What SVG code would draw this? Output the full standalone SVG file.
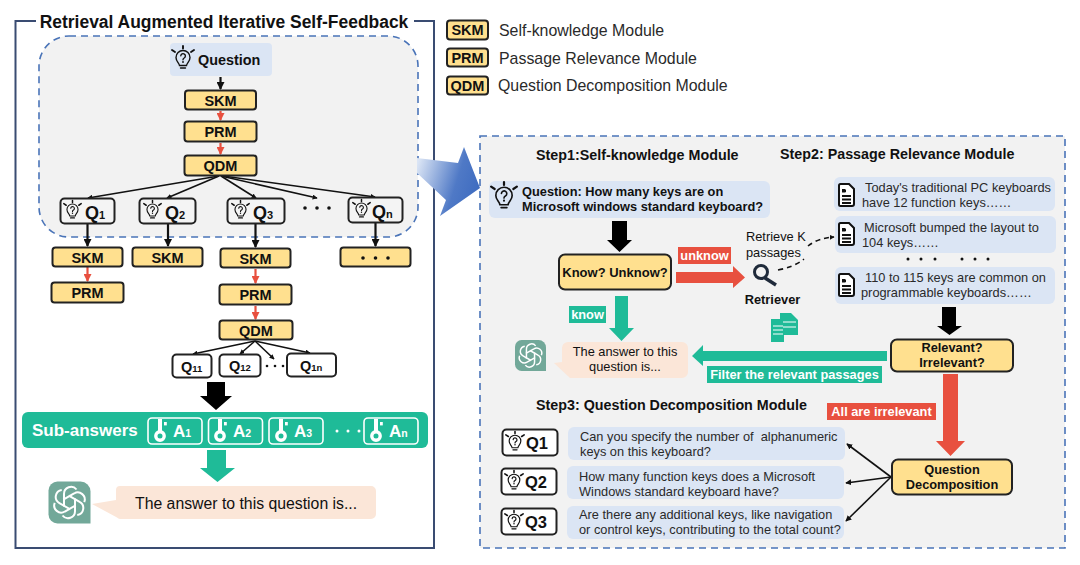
<svg xmlns="http://www.w3.org/2000/svg" width="1080" height="565" viewBox="0 0 1080 565">
<style>
text{font-family:"Liberation Sans",Arial,sans-serif;fill:#111}
.b{font-weight:700}
.m{text-anchor:middle}
.mod{fill:#ffe08f;stroke:#222;stroke-width:2}
.q{fill:#f4f4f4;stroke:#222;stroke-width:2}
.qw{fill:#fff;stroke:#222;stroke-width:2}
.blue{fill:#dbe5f4}
.peach{fill:#fbe6d8}
.t14{font-size:14.5px;font-weight:700}
.qt{font-size:18px;font-weight:700}
.qs{font-size:11px;font-weight:700}
.qb{font-size:16.5px;font-weight:700}
.body{font-size:12.8px;fill:#2a2a2a}
.b13{font-size:12.8px;font-weight:700}
.r13{font-size:12.8px}
.leg{font-size:15.9px;fill:#2a2a2a}
.step{font-size:14.3px;font-weight:700}
.tag{font-size:12.8px;font-weight:700;fill:#fff}
.ans{fill:none;stroke:#fff;stroke-width:1.6}
.at{font-size:17px;font-weight:700;fill:#fff}
.as{font-size:10.5px;font-weight:700;fill:#fff}
.dash{stroke:#4a74b8;stroke-width:1.6;stroke-dasharray:7 5;fill:#f2f2f2}
.ln{stroke:#111;stroke-width:1.6;fill:none}
.k{stroke:#111;stroke-width:2.2;fill:none}
.r{stroke:#e8503f;stroke-width:2.2;fill:none}
</style>
<defs>
<marker id="ak" viewBox="0 0 8 8" refX="7" refY="4" markerWidth="5" markerHeight="5" orient="auto" markerUnits="userSpaceOnUse"><path d="M0 0L8 4L0 8z" fill="#111"/></marker>
<marker id="akm" viewBox="0 0 8 8" refX="7" refY="4" markerWidth="6" markerHeight="6" orient="auto" markerUnits="userSpaceOnUse"><path d="M0 0L8 4L0 8z" fill="#111"/></marker>
<marker id="akb" viewBox="0 0 8 8" refX="7" refY="4" markerWidth="8" markerHeight="8" orient="auto" markerUnits="userSpaceOnUse"><path d="M0 0L8 4L0 8z" fill="#111"/></marker>
<marker id="ar" viewBox="0 0 8 8" refX="7" refY="4" markerWidth="8" markerHeight="8" orient="auto" markerUnits="userSpaceOnUse"><path d="M0 0L8 4L0 8z" fill="#e8503f"/></marker>
<linearGradient id="fade" gradientUnits="userSpaceOnUse" x1="417" y1="165" x2="480" y2="185"><stop offset="0" stop-color="#dbe5f5"/><stop offset=".65" stop-color="#4f79c6"/><stop offset="1" stop-color="#3f6cc0"/></linearGradient>
<path id="petal" d="M15.500 25V12.500a7 7 0 0 1 12.500-4.500"/>
<symbol id="bulb" viewBox="0 0 24 24" overflow="visible">
<g fill="none" stroke="#111" stroke-width="1.400" stroke-linecap="round">
<path d="M8.500 19.500C8 16.500 5 15.500 5 11.500a7 7 0 0 1 14 0C19 15.500 16 16.500 15.500 19.500z"/>
<path d="M9.500 22h5"/>
<path d="M9.800 9.800a2.300 2.300 0 1 1 3.400 2.200c-.9.500-1.200 1-1.200 1.800"/>
</g>
<circle cx="12" cy="16" r=".9" fill="#111"/>
<path d="M12 0v2.500M1 4l3 2M23 4l-3 2" stroke="#111" stroke-width="1.900" stroke-linecap="round"/>
</symbol>
<symbol id="gpt" viewBox="0 0 42 42" overflow="visible">
<path d="M9 0H32a10 10 0 0 1 10 10V42H9a9 9 0 0 1-9-9V9a9 9 0 0 1 9-9z" fill="#72a899"/>
<g fill="none" stroke="#fff" stroke-width="2">
<use href="#petal"/>
<use href="#petal" transform="rotate(60 21 21)"/>
<use href="#petal" transform="rotate(120 21 21)"/>
<use href="#petal" transform="rotate(180 21 21)"/>
<use href="#petal" transform="rotate(240 21 21)"/>
<use href="#petal" transform="rotate(300 21 21)"/>
</g>
</symbol>
<symbol id="key" viewBox="0 0 14 23" overflow="visible">
<rect x="4" y="0" width="4" height="14" fill="#fff"/>
<circle cx="6" cy="17" r="4.200" fill="none" stroke="#fff" stroke-width="3.400"/>
<rect x="10" y="3" width="2.800" height="3.400" fill="#fff"/>
</symbol>
<symbol id="doc" viewBox="0 0 17 24" overflow="visible">
<path d="M2.500 1H11L16 6V21a2 2 0 0 1-2 2H2.500a1.500 1.500 0 0 1-1.500-1.500V2.500A1.500 1.500 0 0 1 2.500 1z" fill="#fff" stroke="#111" stroke-width="2"/>
<path d="M4 8h4M4 13h9M4 16.500h9M4 20h9" stroke="#111" stroke-width="1.800"/>
<rect x="4" y="6" width="3.500" height="3.500" fill="#111"/>
</symbol>
</defs>

<rect width="1080" height="565" fill="#fff"/>

<!-- left frame and its shaded iteration region -->
<g id="frame-left">
<path d="M36 21H15.500V548H434V21H414" fill="none" stroke="#3a4c72" stroke-width="2"/>
<text x="224" y="28" class="m b" style="font-size:17.450px">Retrieval Augmented Iterative Self-Feedback</text>
</g>
<rect id="region-top" class="dash" x="39" y="36" width="379" height="201" rx="30"/>

<!-- right panel -->
<rect id="panel-right" class="dash" x="480" y="136" width="585" height="412"/>

<!-- arrow from the region to the panel -->
<path id="zoom-arrow" d="M417 158L458 163L464 147L480 188L440 216L446 200L417 173z" fill="url(#fade)"/>

<!-- connectors -->
<g id="connectors">
<path class="k" d="M220.500 77V89" marker-end="url(#akb)"/>
<path class="r" d="M220.500 111V120" marker-end="url(#ar)"/>
<path class="r" d="M220.500 143V154" marker-end="url(#ar)"/>
<path class="ln" d="M219 176L88 198" marker-end="url(#ak)"/>
<path class="ln" d="M219 176L167 198" marker-end="url(#ak)"/>
<path class="ln" d="M221 176L256 198" marker-end="url(#ak)"/>
<path class="ln" d="M221 176L317 198" marker-end="url(#ak)"/>
<path class="ln" d="M223 176L375 197" marker-end="url(#ak)"/>
<path class="k" d="M87.500 224V246" marker-end="url(#akb)"/>
<path class="k" d="M168 224V246" marker-end="url(#akb)"/>
<path class="k" d="M255.500 224V247" marker-end="url(#akb)"/>
<path class="k" d="M375.500 223V246" marker-end="url(#akb)"/>
<path class="r" d="M87.500 267V281" marker-end="url(#ar)"/>
<path class="r" d="M255.500 269V283" marker-end="url(#ar)"/>
<path class="r" d="M255.500 306V319" marker-end="url(#ar)"/>
<path class="ln" d="M255 341L193 354" marker-end="url(#ak)"/>
<path class="ln" d="M255 341L240 354" marker-end="url(#ak)"/>
<path class="ln" d="M255 341L274 359" marker-end="url(#ak)"/>
<path class="ln" d="M255 341L310 353" marker-end="url(#ak)"/>
<path d="M207 382H225V396H232L216 410L200 396H207z" fill="#000"/>
<path d="M207 450H226V468H235L217.500 482L200 468H207z" fill="#1fbb98"/>
<path d="M612 221H627V240H632L619.500 252L607 240H612z" fill="#000"/>
<path d="M676 272H733V266L745 277.500L733 288V283H676z" fill="#e8503f"/>
<path d="M615 296H628V328H634L621.500 341L609 328H615z" fill="#1fbb98"/>
<path d="M942 307H956V326H962L949.500 335L937 326H942z" fill="#000"/>
<path d="M887 351H703V345L692 356L703 366V361H887z" fill="#1fbb98"/>
<path d="M943 374H958V441H965L950.500 456L936 441H943z" fill="#e8503f"/>
<path class="ln" d="M778 270Q794 267 804 259" stroke-dasharray="5 4"/>
<path class="ln" d="M808 246Q818 238 834 237" stroke-dasharray="5 4" marker-end="url(#ak)"/>
<path class="ln" d="M891 477L847 444" marker-end="url(#akm)"/>
<path class="ln" d="M891 477L846 483" marker-end="url(#akm)"/>
<path class="ln" d="M891 477L846 521" marker-end="url(#akm)"/>
</g>

<!-- legend -->
<g id="legend-skm"><rect class="mod" x="447" y="20.500" width="41" height="19" rx="3"/><text x="467.500" y="35" class="m t14">SKM</text><text x="499" y="36" class="leg">Self-knowledge Module</text></g>
<g id="legend-prm"><rect class="mod" x="447" y="48.500" width="41" height="18" rx="3"/><text x="467.500" y="63" class="m t14">PRM</text><text x="499" y="64" class="leg">Passage Relevance Module</text></g>
<g id="legend-qdm"><rect class="mod" x="447" y="76.500" width="41" height="18" rx="3"/><text x="467.500" y="91" class="m t14">QDM</text><text x="498" y="91" class="leg">Question Decomposition Module</text></g>

<!-- upper pipeline -->
<g id="question"><rect class="blue" x="170" y="43" width="102" height="33" rx="4"/><use href="#bulb" x="171" y="46" width="24" height="24"/><text x="198" y="65" class="b" font-size="14.400">Question</text></g>
<g id="skm-top"><rect class="mod" x="185" y="90.500" width="71" height="19" rx="3"/><text x="220.500" y="105.500" class="m t14">SKM</text></g>
<g id="prm-top"><rect class="mod" x="184.500" y="121.500" width="72" height="20" rx="3"/><text x="220.500" y="137" class="m t14">PRM</text></g>
<g id="qdm-top"><rect class="mod" x="184.500" y="155.500" width="72" height="20" rx="3"/><text x="220.500" y="171" class="m t14">QDM</text></g>
<g id="q1"><rect class="q" x="60.500" y="198.500" width="54" height="25" rx="4"/><use href="#bulb" x="63" y="199" width="19" height="22"/><text x="85" y="219" class="qt">Q<tspan class="qs">1</tspan></text></g>
<g id="q2"><rect class="q" x="139.500" y="198.500" width="56" height="25" rx="4"/><use href="#bulb" x="143" y="199" width="19" height="22"/><text x="165" y="219" class="qt">Q<tspan class="qs">2</tspan></text></g>
<g id="q3"><rect class="q" x="227.500" y="198.500" width="57" height="25" rx="4"/><use href="#bulb" x="231" y="199" width="19" height="22"/><text x="253" y="219" class="qt">Q<tspan class="qs">3</tspan></text></g>
<g id="q-dots"><circle cx="305" cy="208" r="1.800" fill="#111"/><circle cx="317" cy="208" r="1.800" fill="#111"/><circle cx="329" cy="208" r="1.800" fill="#111"/></g>
<g id="qn"><rect class="q" x="348.500" y="197.500" width="54" height="25" rx="4"/><use href="#bulb" x="352" y="198" width="19" height="22"/><text x="372" y="218" class="qt">Q<tspan class="qs">n</tspan></text></g>

<!-- per-question branches -->
<g id="skm-1"><rect class="mod" x="52.500" y="247.500" width="70" height="19" rx="3"/><text x="87.500" y="262.500" class="m t14">SKM</text></g>
<g id="skm-2"><rect class="mod" x="132.500" y="247.500" width="70" height="19" rx="3"/><text x="167.500" y="262.500" class="m t14">SKM</text></g>
<g id="skm-3"><rect class="mod" x="220.500" y="248.500" width="70" height="19" rx="3"/><text x="255.500" y="263.500" class="m t14">SKM</text></g>
<g id="skm-n"><rect class="mod" x="340.500" y="247.500" width="70" height="19" rx="3"/><circle cx="363" cy="258" r="1.800" fill="#111"/><circle cx="375.500" cy="258" r="1.800" fill="#111"/><circle cx="388" cy="258" r="1.800" fill="#111"/></g>
<g id="prm-1"><rect class="mod" x="51.500" y="282.500" width="72" height="20" rx="3"/><text x="87.500" y="298" class="m t14">PRM</text></g>
<g id="prm-3"><rect class="mod" x="219.500" y="284.500" width="72" height="20" rx="3"/><text x="255.500" y="300" class="m t14">PRM</text></g>
<g id="qdm-3"><rect class="mod" x="219.500" y="320.500" width="73" height="19" rx="3"/><text x="256" y="336" class="m t14">QDM</text></g>
<g id="q11"><rect class="qw" x="172.500" y="354.500" width="39" height="23" rx="4"/><text x="181" y="372" font-size="14.500" class="b">Q<tspan font-size="9.500">11</tspan></text></g>
<g id="q12"><rect class="qw" x="219.500" y="354.500" width="41" height="22" rx="4"/><text x="229" y="371" font-size="14.500" class="b">Q<tspan font-size="9.500">12</tspan></text></g>
<g id="q1-dots"><circle cx="267" cy="366" r="1.300" fill="#111"/><circle cx="275" cy="366" r="1.300" fill="#111"/><circle cx="283" cy="366" r="1.300" fill="#111"/></g>
<g id="q1n"><rect class="qw" x="287" y="353.500" width="49" height="23" rx="4"/><text x="300" y="371" font-size="14.500" class="b">Q<tspan font-size="9.500">1n</tspan></text></g>

<!-- sub-answers bar -->
<g id="sub-answers">
<rect x="22" y="412" width="406" height="36" rx="6" fill="#1fbb98"/>
<text x="32" y="436" font-size="17" class="b" style="fill:#fff">Sub-answers</text>
<rect class="ans" x="148" y="418" width="54" height="26" rx="4"/><use href="#key" x="154" y="419" width="14" height="23"/><text x="173" y="437" class="at">A<tspan class="as">1</tspan></text>
<rect class="ans" x="208.500" y="418" width="54" height="26" rx="4"/><use href="#key" x="214" y="419" width="14" height="23"/><text x="233" y="437" class="at">A<tspan class="as">2</tspan></text>
<rect class="ans" x="269" y="418" width="54" height="26" rx="4"/><use href="#key" x="275" y="419" width="14" height="23"/><text x="294" y="437" class="at">A<tspan class="as">3</tspan></text>
<circle cx="337" cy="431" r="1.500" fill="#fff"/><circle cx="348" cy="431" r="1.500" fill="#fff"/><circle cx="359" cy="431" r="1.500" fill="#fff"/>
<rect class="ans" x="364" y="418" width="54" height="26" rx="4"/><use href="#key" x="370" y="419" width="14" height="23"/><text x="389" y="437" class="at">A<tspan class="as">n</tspan></text>
</g>

<!-- final answer, left -->
<g id="answer-left">
<use href="#gpt" x="48.500" y="481.500" width="42" height="42"/>
<path class="peach" d="M120 486H371a5 5 0 0 1 5 5V514a5 5 0 0 1-5 5H120a4 4 0 0 1-3-1.500L92 504L116 500V490a4 4 0 0 1 4-4z"/>
<text x="135" y="509" font-size="15.800">The answer to this question is...</text>
</g>

<!-- panel headings -->
<text id="step1" x="536" y="160" class="step">Step1:Self-knowledge Module</text>
<text id="step2" x="780" y="159" class="step">Step2: Passage Relevance Module</text>
<text id="step3" x="536" y="410" class="step">Step3: Question Decomposition Module</text>

<g id="question-main"><rect class="blue" x="489" y="181" width="281" height="37" rx="6"/><use href="#bulb" x="490" y="182" width="28" height="28"/><text x="522" y="196" class="b13">Question: How many keys are on</text><text x="522" y="211" class="b13">Microsoft windows standard keyboard?</text></g>
<g id="know-check"><rect class="mod" x="559" y="254.500" width="112" height="35" rx="6"/><text x="615" y="277" class="m b" font-size="13">Know? Unknow?</text></g>
<g id="tag-unknow"><rect x="678" y="247" width="53" height="17" fill="#e8503f"/><text x="704.500" y="260" class="m tag">unknow</text></g>
<g id="tag-know"><rect x="569" y="306" width="37" height="17" fill="#1fbb98"/><text x="587.500" y="319" class="m tag">know</text></g>
<g id="retriever">
<text x="746" y="241" class="r13">Retrieve K</text><text x="746" y="257" class="r13">passages</text>
<circle cx="761" cy="272" r="6.500" fill="none" stroke="#1f2a3a" stroke-width="3"/><path d="M765 278L776 285" stroke="#1f2a3a" stroke-width="3.500"/>
<text x="772.500" y="304" class="m b13">Retriever</text>
</g>
<g id="passage-1"><rect class="blue" x="834" y="177" width="221" height="34" rx="6"/><use href="#doc" x="838" y="183" width="17" height="24"/><text x="865" y="192" class="body">Today's traditional PC keyboards</text><text x="862" y="207" class="body">have 12 function keys……</text></g>
<g id="passage-2"><rect class="blue" x="835" y="216" width="221" height="37" rx="6"/><use href="#doc" x="838" y="222" width="17" height="24"/><text x="864" y="232" class="body">Microsoft bumped the layout to</text><text x="862" y="247" class="body">104 keys……</text></g>
<g id="passage-dots" fill="#111"><circle cx="908" cy="259" r="1.500"/><circle cx="921" cy="259" r="1.500"/><circle cx="935" cy="259" r="1.500"/><circle cx="962" cy="259" r="1.500"/><circle cx="975" cy="259" r="1.500"/><circle cx="988" cy="259" r="1.500"/></g>
<g id="passage-3"><rect class="blue" x="835" y="267" width="220" height="37" rx="6"/><use href="#doc" x="838" y="273" width="17" height="24"/><text x="865" y="282" class="body">110 to 115 keys are common on</text><text x="861" y="297" class="body">programmable keyboards……</text></g>
<g id="relevance-check"><rect class="mod" x="891" y="339.500" width="122" height="32" rx="6"/><text x="952" y="352" class="m b13">Relevant?</text><text x="952" y="367" class="m b13">Irrelevant?</text></g>
<g id="filtered-docs" fill="#1fbb98"><path d="M780 313H791L798 320V335H780z"/><path d="M771 319H784V342H771z"/><path d="M773 326h10M773 330h10M773 334h10M783 322h13M783 327h13" stroke="#fff" stroke-width="1"/></g>
<g id="tag-filter"><rect x="707" y="366" width="175" height="17" fill="#1fbb98"/><text x="794.500" y="379" class="m tag">Filter the relevant passages</text></g>
<g id="answer-right">
<use href="#gpt" x="515" y="340" width="31" height="31"/>
<path class="peach" d="M568 342H682a6 6 0 0 1 6 6V372a6 6 0 0 1-6 6H570L554 363L562 362V348a6 6 0 0 1 6-6z"/>
<text x="625" y="356" class="m r13">The answer to this</text><text x="625" y="371" class="m r13">question is...</text>
</g>
<g id="tag-irrelevant"><rect x="827" y="403" width="109" height="17" fill="#e8503f"/><text x="881.500" y="416" class="m tag">All are irrelevant</text></g>
<g id="decomposition"><rect class="mod" x="892" y="459.500" width="120" height="35" rx="6"/><text x="952" y="474" class="m b13">Question</text><text x="952" y="489" class="m b13">Decomposition</text></g>
<g id="sub-q1"><rect class="qw" x="502.500" y="429.500" width="55" height="26" rx="4"/><use href="#bulb" x="505" y="430" width="20" height="23"/><text x="526" y="449" class="qb">Q1</text></g>
<g id="sub-q2"><rect class="qw" x="501.500" y="468.500" width="55" height="26" rx="4"/><use href="#bulb" x="504" y="469" width="20" height="23"/><text x="525" y="488" class="qb">Q2</text></g>
<g id="sub-q3"><rect class="qw" x="501.500" y="508.500" width="55" height="26" rx="4"/><use href="#bulb" x="504" y="509" width="20" height="23"/><text x="525" y="528" class="qb">Q3</text></g>
<g id="sub-text-1"><rect class="blue" x="568" y="427" width="277" height="33" rx="6"/><text x="580" y="441" class="body" xml:space="preserve">Can you specify the number of  alphanumeric</text><text x="580" y="456" class="body">keys on this keyboard?</text></g>
<g id="sub-text-2"><rect class="blue" x="567" y="466" width="277" height="33" rx="6"/><text x="579" y="481" class="body">How many function keys does a Microsoft</text><text x="579" y="496" class="body">Windows standard keyboard have?</text></g>
<g id="sub-text-3"><rect class="blue" x="567" y="506" width="277" height="33" rx="6"/><text x="579" y="519" class="body">Are there any additional keys, like navigation</text><text x="579" y="534" class="body">or control keys, contributing to the total count?</text></g>
</svg>
